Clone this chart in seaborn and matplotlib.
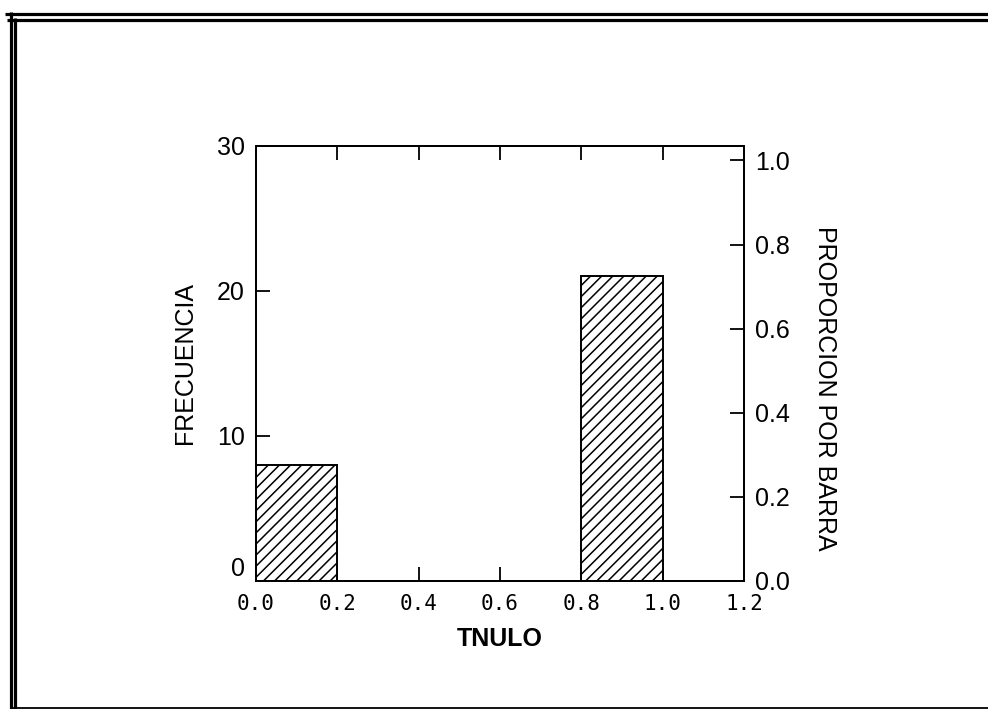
# Histograma de TNULO con eje de proporcion a la derecha
import seaborn as sns
import matplotlib.pyplot as plt
import matplotlib.transforms as mtransforms
from matplotlib.lines import Line2D

# datos
bordes = [0.0, 0.2, 0.4, 0.6, 0.8, 1.0, 1.2]   # limites de las barras
tnulo = [0.1, 0.9]                              # centro de las barras con datos
frecuencia = [8, 21]                            # conteo de cada barra
n_total = sum(frecuencia)

yticks_frec = [0, 10, 20, 30]
yticks_prop = [0.0, 0.2, 0.4, 0.6, 0.8, 1.0]
xticks = [0.0, 0.2, 0.4, 0.6, 0.8, 1.0, 1.2]

sns.set_style('ticks')
plt.rcParams['font.family'] = ['Liberation Sans', 'DejaVu Sans']
plt.rcParams['hatch.linewidth'] = 1.1
plt.rcParams['text.color'] = 'black'
plt.rcParams['xtick.color'] = 'black'
plt.rcParams['ytick.color'] = 'black'
plt.rcParams['axes.labelcolor'] = 'black'

W, H = 988, 709
fig = plt.figure(figsize=(W / 100, H / 100), dpi=100)
ax = fig.add_axes([256 / W, 1 - 581 / H, (744 - 256) / W, (581 - 146) / H])

sns.histplot(x=tnulo, weights=frecuencia, bins=bordes, ax=ax,
             facecolor='white', edgecolor='black', linewidth=1.4,
             hatch='///', alpha=1)

ax.set_xlim(0, 1.2)
ax.set_ylim(0, 30)
ax.set_xticks(xticks)
ax.set_xticklabels([f'{v:.1f}' for v in xticks], family='DejaVu Sans Mono', fontsize=15)
ax.set_yticks(yticks_frec)
ax.set_yticklabels([str(v) for v in yticks_frec], fontsize=18)
ax.tick_params(axis='x', top=True, direction='in', length=10, width=1.3, pad=9)
ax.tick_params(axis='y', right=False, direction='in', length=10, width=1.3, pad=8)
for s in ax.spines.values():
    s.set_linewidth(1.4)
    s.set_color('black')

# el "0" de la izquierda va un poco mas arriba
lbl0 = ax.get_yticklabels()[0]
lbl0.set_transform(lbl0.get_transform() + mtransforms.ScaledTranslation(0, 14 / 100, fig.dpi_scale_trans))

ax.set_xlabel('TNULO', fontsize=18, fontweight='bold', labelpad=10)
ax.set_ylabel('FRECUENCIA', fontsize=18, va='center')
ax.yaxis.set_label_coords((185 - 256) / 488, 0.5)

# eje de proporcion por barra
ax2 = ax.twinx()
ax2.set_ylim(0, 30 / n_total)
ax2.set_yticks(yticks_prop)
ax2.set_yticklabels([f'{v:.1f}' for v in yticks_prop], fontsize=18)
ax2.tick_params(axis='y', direction='in', length=10, width=1.3, pad=8)
ax2.set_ylabel('PROPORCION POR BARRA', fontsize=18, rotation=-90, va='center')
ax2.yaxis.set_label_coords((825 - 256) / 488, (581 - 388) / 435)
for s in ax2.spines.values():
    s.set_linewidth(1.4)
    s.set_color('black')

# marco doble de la pagina
def linea(x0, y0, x1, y1, lw):
    fig.add_artist(Line2D([x0 / W, x1 / W], [1 - y0 / H, 1 - y1 / H],
                          transform=fig.transFigure, color='black', lw=lw,
                          solid_capstyle='butt'))

linea(5, 13.5, W, 13.5, 2.3)
linea(7, 19.5, W, 19.5, 2.3)
linea(10.5, 12, 10.5, H, 2.3)
linea(14.5, 18, 14.5, H, 2.3)
linea(10, 707.5, W, 707.5, 1.3)

fig.savefig('out.png', dpi=100)
